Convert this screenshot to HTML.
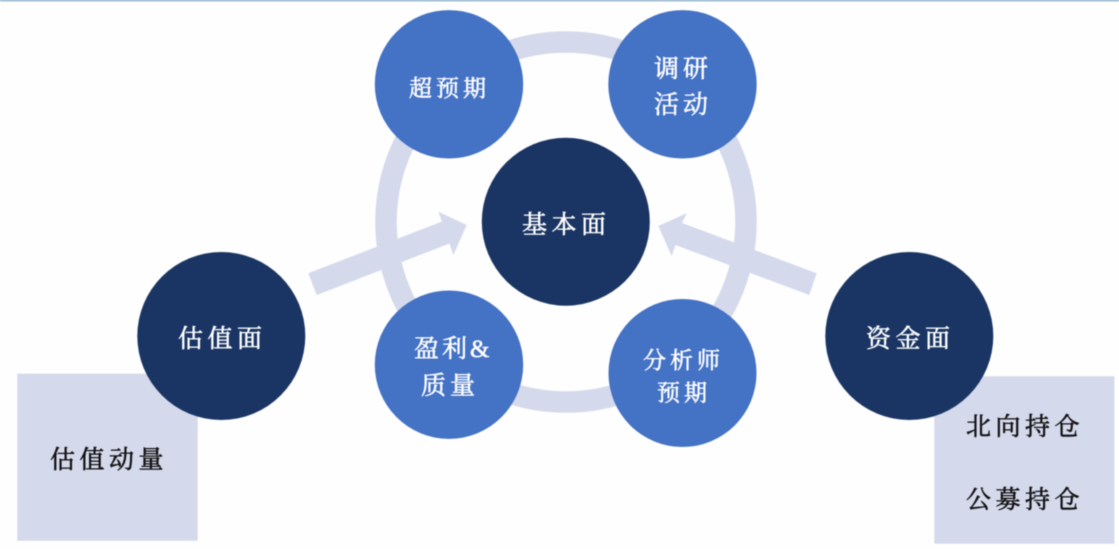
<!DOCTYPE html>
<html lang="zh">
<head>
<meta charset="utf-8">
<title>基本面 估值面 资金面</title>
<style>
html,body{margin:0;padding:0;background:#fefefe;width:1119px;height:549px;overflow:hidden}
svg{display:block;filter:blur(.45px)}
text{font-family:"Liberation Serif","Noto Serif CJK SC",serif;dominant-baseline:central;stroke-width:.55px}
.w{fill:#fff;stroke:#fff}
.k{fill:#111;stroke:#111}
</style>
</head>
<body>
<svg width="1119" height="549" viewBox="0 0 1119 549" xmlns="http://www.w3.org/2000/svg">
<rect x="0" y="0" width="1119" height="1.3" fill="#7fa8c2"/>
<circle cx="566" cy="222" r="180" fill="none" stroke="#d4d9ec" stroke-width="21.5"/>
<polygon fill="#d4d9ec" points="308.3,273.3 442,221.5 438.3,211.7 466.7,225 453.3,255 449.5,243.5 316.7,295"/>
<polygon fill="#d4d9ec" points="816.7,273.3 682,223 686.7,213.3 658.3,226 671.7,256 675.5,245 809.3,295"/>
<rect x="17.3" y="373.7" width="180.4" height="167" fill="#d4d9ec"/>
<rect x="934.3" y="376.3" width="180" height="167.4" fill="#d4d9ec"/>
<g fill="#4472c4">
<circle cx="449" cy="84.3" r="74.2"/>
<circle cx="682.5" cy="84.3" r="74.2"/>
<circle cx="449" cy="364.7" r="74.2"/>
<circle cx="682.5" cy="373" r="74"/>
</g>
<g fill="#1a3563">
<circle cx="565.8" cy="221.7" r="84"/>
<circle cx="221.3" cy="336" r="84"/>
<circle cx="909.3" cy="336" r="84"/>
</g>
<g font-size="23">
<text class="w" x="409" y="88.5" letter-spacing="4">超预期</text>
<text class="w" x="643" y="360.5" letter-spacing="4">分析师</text>
<text class="w" x="657" y="393" letter-spacing="4">预期</text>
</g>
<g font-size="25">
<text class="w" x="654" y="69.5" letter-spacing="4">调研</text>
<text class="w" x="654" y="105.5" letter-spacing="4">活动</text>
<text class="w" x="522" y="225.5" letter-spacing="4.5">基本面</text>
<text class="w" x="178" y="339.5" letter-spacing="4.5">估值面</text>
<text class="w" x="866" y="339.5" letter-spacing="4.5">资金面</text>
<text class="w" x="414" y="349.5" letter-spacing="3">盈利&amp;</text>
<text class="w" x="421" y="386.5" letter-spacing="4">质量</text>
<text class="k" x="50" y="460.5" letter-spacing="4.5">估值动量</text>
<text class="k" x="966" y="427.5" letter-spacing="4.5">北向持仓</text>
<text class="k" x="966" y="500.5" letter-spacing="4.5">公募持仓</text>
</g>
</svg>
</body>
</html>
